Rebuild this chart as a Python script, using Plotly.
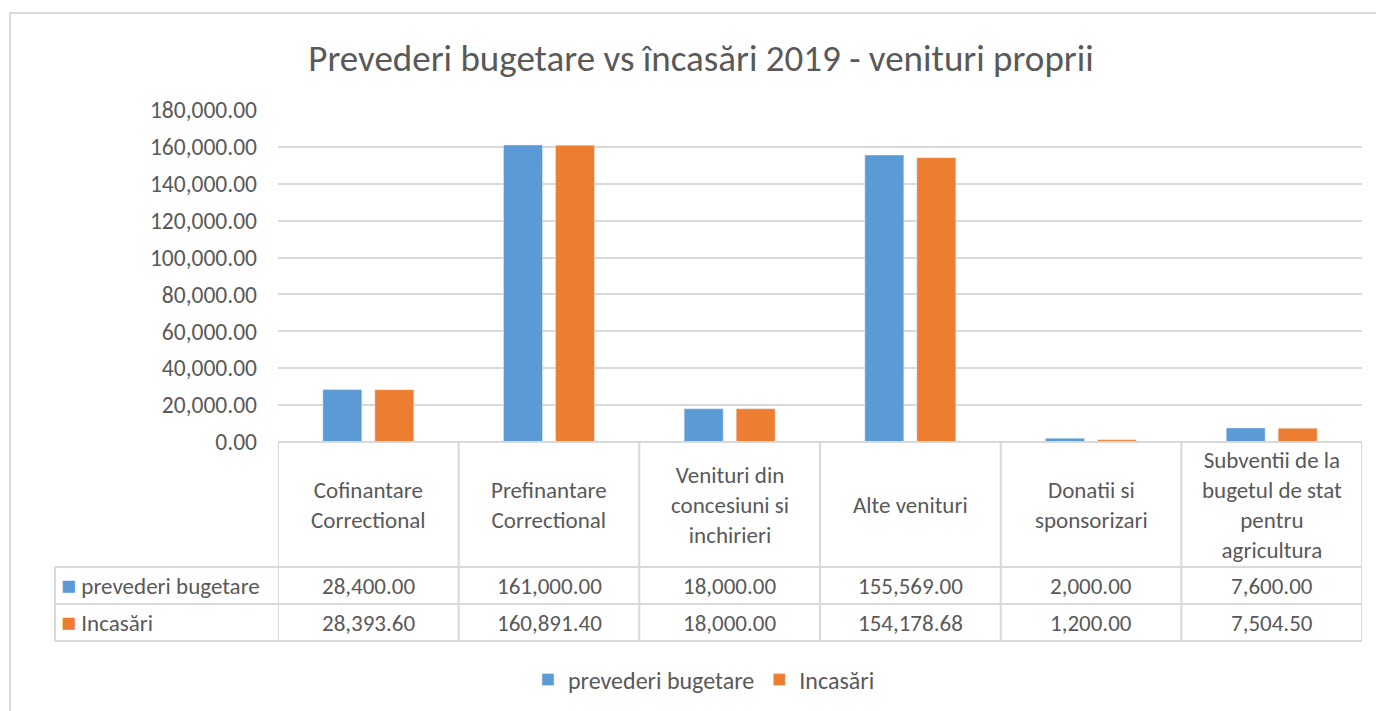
import plotly.graph_objects as go

categories = ["Cofinantare<br>Correctional", "Prefinantare<br>Correctional",
              "Venituri din<br>concesiuni si<br>inchirieri", "Alte venituri",
              "Donatii si<br>sponsorizari",
              "Subventii de la<br>bugetul de stat<br>pentru<br>agricultura"]
series_names = ["prevederi bugetare", "Incasări"]
prevederi = [28400.00, 161000.00, 18000.00, 155569.00, 2000.00, 7600.00]
incasari = [28393.60, 160891.40, 18000.00, 154178.68, 1200.00, 7504.50]
y_ticks = [0, 20000, 40000, 60000, 80000, 100000, 120000, 140000, 160000, 180000]

BLUE = "#5B9BD5"
ORANGE = "#ED7D31"
TXT = "#595959"
GRID = "#D9D9D9"
FONT = "Carlito, Calibri, Lato, sans-serif"

OFF = 8  # page body margin
W, H = 1384 - OFF, 711 - OFF
# plot area in reference pixel coords: x 278..1362, y 110..442
L, R, T, B = 278 - OFF, 1384 - 1362, 110 - OFF, 711 - 442
PW, PH = W - L - R, H - T - B

def px_y(py):
    return (442 - py) / PH

def px_x(px):
    return (px - 278) / PW

xs = list(range(len(categories)))
fig = go.Figure()
fig.add_trace(go.Bar(x=xs, y=prevederi, name=series_names[0], marker_color=BLUE))
fig.add_trace(go.Bar(x=xs, y=incasari, name=series_names[1], marker_color=ORANGE))

shapes = []
line = dict(color=GRID, width=2)
# outer chart border
shapes.append(dict(type="rect", xref="paper", yref="paper", x0=px_x(10), x1=px_x(1400),
                   y0=px_y(740), y1=px_y(13), line=line, layer="below"))
# table vertical lines (category columns)
for i in range(len(categories) + 1):
    shapes.append(dict(type="line", xref="x", yref="paper", x0=i - 0.5, x1=i - 0.5,
                       y0=px_y(442), y1=px_y(641), line=line))
# left column vertical line
shapes.append(dict(type="line", xref="paper", yref="paper", x0=px_x(55), x1=px_x(55),
                   y0=px_y(567), y1=px_y(641), line=line))
# horizontal lines
for py in [567, 604, 641]:
    shapes.append(dict(type="line", xref="paper", yref="paper", x0=px_x(55), x1=1,
                       y0=px_y(py), y1=px_y(py), line=line))
shapes.append(dict(type="line", xref="paper", yref="paper", x0=0, x1=1,
                   y0=0, y1=0, line=line))

annotations = []
tfont = dict(family=FONT, size=23, color=TXT)
for i, c in enumerate(categories):
    annotations.append(dict(x=i, y=px_y(505), xref="x", yref="paper", text=c,
                            showarrow=False, font=tfont, align="center",
                            xanchor="center", yanchor="middle"))
    annotations.append(dict(x=i, y=px_y(585.5), xref="x", yref="paper",
                            text=f"{prevederi[i]:,.2f}", showarrow=False, font=tfont,
                            xanchor="center", yanchor="middle"))
    annotations.append(dict(x=i, y=px_y(622.5), xref="x", yref="paper",
                            text=f"{incasari[i]:,.2f}", showarrow=False, font=tfont,
                            xanchor="center", yanchor="middle"))
for name, col, py in [(series_names[0], BLUE, 585.5), (series_names[1], ORANGE, 622.5)]:
    annotations.append(dict(x=px_x(59), y=px_y(py), xref="paper", yref="paper",
                            xanchor="left", yanchor="middle", showarrow=False, font=tfont,
                            text=f"<span style='color:{col};font-size:25px'>■</span> {name}"))

fig.update_layout(
    width=W, height=H,
    margin=dict(l=L, r=R, t=T, b=B),
    paper_bgcolor="white", plot_bgcolor="white",
    font=dict(family=FONT, color=TXT, size=23),
    title=dict(text="Prevederi bugetare vs încasări 2019 - venituri proprii",
               x=(701 - OFF) / W, xref="container", y=1 - (58 - OFF) / H, yref="container",
               xanchor="center", yanchor="middle",
               font=dict(family=FONT, size=37, color=TXT)),
    barmode="group", bargap=0.4245, bargroupgap=0.25,
    xaxis=dict(range=[-0.5, len(categories) - 0.5], showticklabels=False,
               showgrid=False, zeroline=False, showline=False, fixedrange=True),
    yaxis=dict(range=[0, 180000], tickvals=y_ticks, tickformat=",.2f",
               showgrid=True, gridcolor=GRID, gridwidth=1.5, zeroline=False,
               showline=False, ticklabelstandoff=20,
               tickfont=dict(family=FONT, size=23.5, color=TXT)),
    legend=dict(orientation="h", xref="container", yref="container",
                x=(704 - OFF) / W, y=1 - (680 - OFF) / H, xanchor="center", yanchor="middle",
                font=dict(family=FONT, size=24, color=TXT), traceorder="normal"),
    shapes=shapes, annotations=annotations,
)
fig.write_html("out.html")
